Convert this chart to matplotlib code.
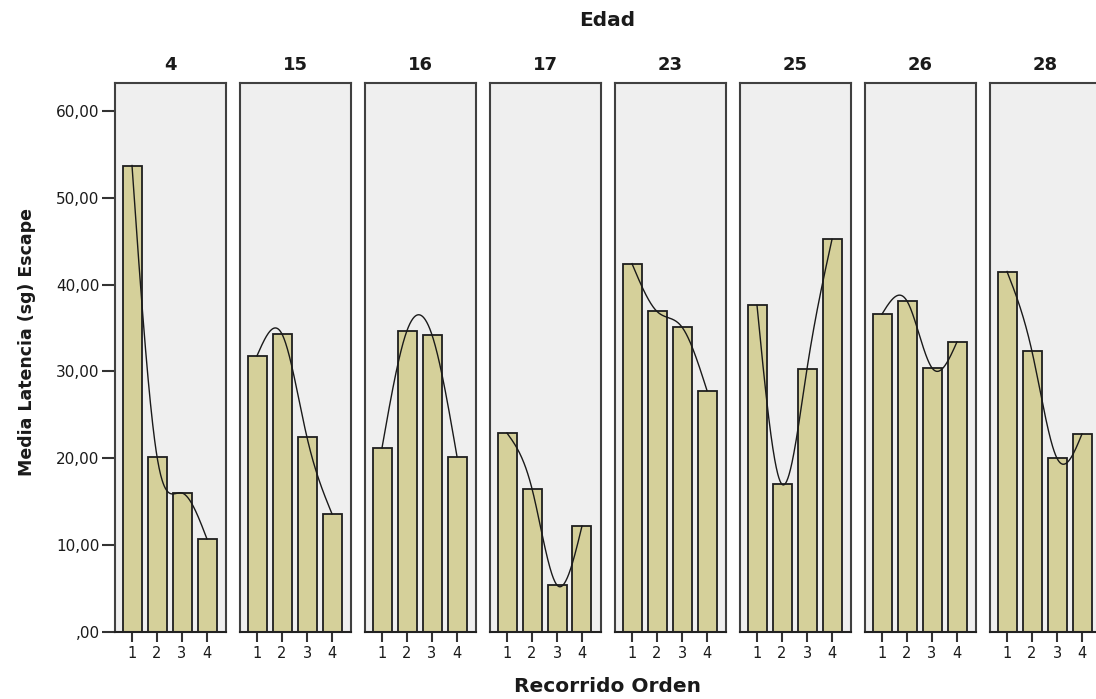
import numpy as np
import matplotlib
matplotlib.use("Agg")
import matplotlib.pyplot as plt

plt.rcParams['font.family'] = ['DejaVu Sans']

edades = ["4", "15", "16", "17", "23", "25", "26", "28"]
orden = [1, 2, 3, 4]
medias = {
    "4":  [53.7, 20.2, 16.0, 10.7],
    "15": [31.8, 34.3, 22.4, 13.6],
    "16": [21.2, 34.7, 34.2, 20.2],
    "17": [22.9, 16.5, 5.4, 12.2],
    "23": [42.4, 36.9, 35.1, 27.8],
    "25": [37.6, 17.0, 30.3, 45.2],
    "26": [36.6, 38.1, 30.4, 33.4],
    "28": [41.5, 32.3, 20.0, 22.8],
}
yticks = [0, 10, 20, 30, 40, 50, 60]
ytick_labels = [",00", "10,00", "20,00", "30,00", "40,00", "50,00", "60,00"]


def natural_spline(x, y, xs):
    x = np.asarray(x, float); y = np.asarray(y, float)
    n = len(x)
    h = np.diff(x)
    A = np.zeros((n, n)); b = np.zeros(n)
    A[0, 0] = 1; A[-1, -1] = 1
    for i in range(1, n - 1):
        A[i, i - 1] = h[i - 1]
        A[i, i] = 2 * (h[i - 1] + h[i])
        A[i, i + 1] = h[i]
        b[i] = 3 * ((y[i + 1] - y[i]) / h[i] - (y[i] - y[i - 1]) / h[i - 1])
    c = np.linalg.solve(A, b)
    out = np.empty_like(xs)
    for k, xv in enumerate(xs):
        i = min(max(np.searchsorted(x, xv) - 1, 0), n - 2)
        bi = (y[i + 1] - y[i]) / h[i] - h[i] * (2 * c[i] + c[i + 1]) / 3
        di = (c[i + 1] - c[i]) / (3 * h[i])
        dx = xv - x[i]
        out[k] = y[i] + bi * dx + c[i] * dx ** 2 + di * dx ** 3
    return out


W, H = 1096, 699
fig = plt.figure(figsize=(W / 100, H / 100), dpi=100)
fig.patch.set_facecolor('white')

left0 = 115; pitch = 125; pw = 111
bottom_px = 632; top_px = 83
bar_color = '#D5D09A'
frame_color = '#404040'
text_color = '#1a1a1a'

for i, e in enumerate(edades):
    l = left0 + pitch * i
    ax = fig.add_axes([l / W, (H - bottom_px) / H, pw / W, (bottom_px - top_px) / H])
    ax.set_facecolor('#EFEFEF')
    vals = medias[e]
    ax.bar(orden, vals, width=0.76, color=bar_color, edgecolor='#1e1e1e', linewidth=1.3, zorder=2)
    xs = np.linspace(1, 4, 200)
    ax.plot(xs, natural_spline(orden, vals, xs), color='#1a1a1a', lw=1.0, zorder=3)
    ax.set_xlim(0.32, 4.76)
    ax.set_ylim(0, 63.2)
    ax.set_xticks(orden)
    ax.set_xticklabels([str(o) for o in orden], fontsize=10.5, color=text_color)
    ax.tick_params(axis='x', length=7, width=1.5, color='#333333', pad=3)
    for s in ax.spines.values():
        s.set_color(frame_color)
        s.set_linewidth(1.5)
    ax.spines['bottom'].set_color('#222222')
    ax.set_title(e, fontsize=13, fontweight='bold', pad=9, color=text_color)
    if i == 0:
        ax.set_yticks(yticks)
        ax.set_yticklabels(ytick_labels, fontsize=11, color=text_color)
        ax.tick_params(axis='y', length=9.5, width=1.5, color='#333333', pad=1.5)
    else:
        ax.set_yticks([])

fig.text(607 / W, 1 - 20 / H, "Edad", ha='center', va='center', fontsize=14.5,
         fontweight='bold', color=text_color)
fig.text(608 / W, 1 - 687 / H, "Recorrido Orden", ha='center', va='center', fontsize=14.5,
         fontweight='bold', color=text_color)
fig.text(27 / W, 1 - 342 / H, "Media Latencia (sg) Escape", ha='center', va='center',
         rotation=90, fontsize=12.5, fontweight='bold', color=text_color)

fig.savefig("out.png", dpi=100)
